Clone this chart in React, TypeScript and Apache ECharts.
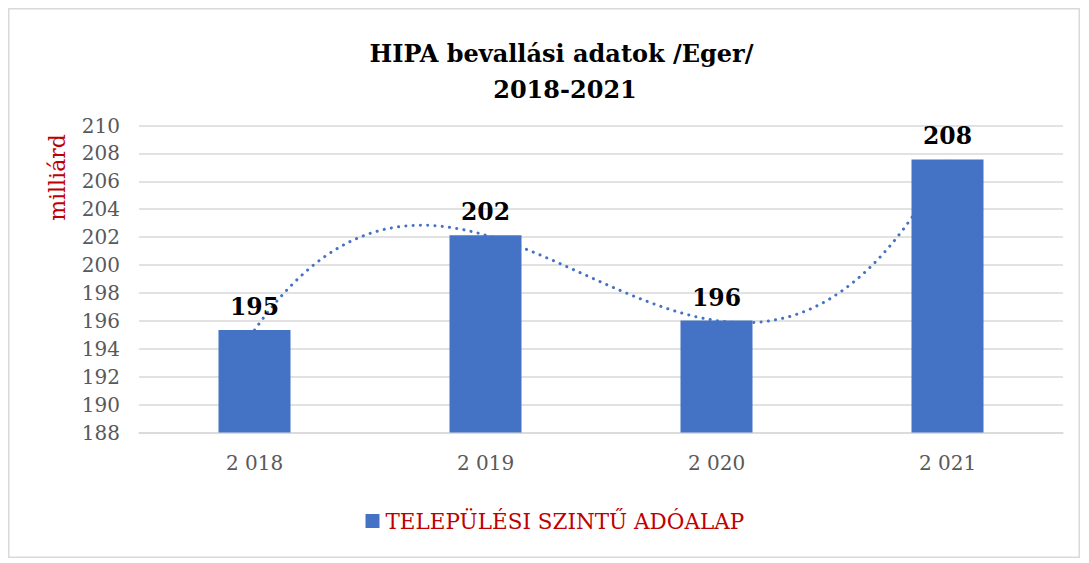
import React, { useEffect, useRef } from "react";
import * as echarts from "echarts";

const years = ["2 018", "2 019", "2 020", "2 021"];
const adoalap = [195.34, 202.14, 196.02, 207.57];
const yMin = 188;
const yMax = 210;
const yStep = 2;
const seriesName = "TELEPÜLÉSI SZINTŰ ADÓALAP";
const titleLines = ["HIPA bevallási adatok /Eger/", "2018-2021"];
const yName = "milliárd";

const BLUE = "#4472C4";
const GRID = "#D9D9D9";
const RED = "#C00000";
const GRAY = "#595959";
const SERIF = "'DejaVu Serif', serif";

// Order-3 polynomial trendline (with 4 points it passes exactly through them).
function polyTrend(vals: number[], t: number): number {
  let s = 0;
  for (let i = 0; i < vals.length; i++) {
    let l = 1;
    for (let j = 0; j < vals.length; j++) if (j !== i) l *= (t - j) / (i - j);
    s += vals[i] * l;
  }
  return s;
}

export default function App() {
  const ref = useRef<HTMLDivElement>(null);
  useEffect(() => {
    if (!ref.current) return;
    const chart = echarts.init(ref.current, undefined, { renderer: "svg" });
    chart.setOption({
      animation: false,
      backgroundColor: "#fff",
      grid: { left: 131, top: 117.5, width: 924, height: 307 },
      legend: {
        data: [seriesName],
        left: 357.5,
        top: 502,
        padding: 0,
        itemWidth: 14,
        itemHeight: 14,
        icon: "rect",
        itemGap: 8,
        textStyle: { color: RED, fontSize: 21.5, fontFamily: SERIF, padding: [0, 0, 0, 1] },
      },
      xAxis: {
        type: "category",
        data: years,
        axisLine: { lineStyle: { color: GRID, width: 1.5 } },
        axisTick: { show: false },
        axisLabel: { color: GRAY, fontSize: 20, fontFamily: SERIF, margin: 20 },
      },
      yAxis: {
        type: "value",
        min: yMin,
        max: yMax,
        interval: yStep,
        axisLine: { show: false },
        axisTick: { show: false },
        splitLine: { lineStyle: { color: GRID, width: 1.5 } },
        axisLabel: { color: GRAY, fontSize: 20, fontFamily: SERIF, margin: 19 },
      },
      series: [
        {
          type: "custom",
          name: "trend",
          z: 1,
          silent: true,
          data: [[0, adoalap[0]]],
          encode: { x: 0, y: 1 },
          renderItem: (_params: any, api: any) => {
            const xa = api.coord([0, yMin])[0];
            const xb = api.coord([1, yMin])[0];
            const pts: number[][] = [];
            const n = adoalap.length - 1;
            const steps = 80;
            for (let k = 0; k <= n * steps; k++) {
              const t = k / steps;
              const y = api.coord([0, polyTrend(adoalap, t)])[1];
              pts.push([xa + (xb - xa) * t, y]);
            }
            return {
              type: "polyline",
              shape: { points: pts },
              style: {
                stroke: BLUE,
                fill: "none",
                lineWidth: 3,
                lineDash: [0.1, 7.2],
                lineCap: "round",
              },
            };
          },
        },
        {
          type: "bar",
          name: seriesName,
          z: 2,
          data: adoalap,
          barWidth: 72,
          itemStyle: { color: BLUE },
          label: {
            show: true,
            position: "top",
            distance: 11,
            formatter: (p: any) => String(Math.round(p.value)),
            color: "#000",
            fontSize: 23.5,
            fontWeight: "bold",
            fontFamily: SERIF,
          },
        },
      ],
      graphic: [
        {
          type: "rect",
          silent: true,
          shape: { x: 0.75, y: 0.75, width: 1070.5, height: 548.5 },
          style: { fill: "none", stroke: GRID, lineWidth: 1.5 },
        },
        {
          type: "text",
          x: 553.5,
          y: 45,
          style: {
            text: titleLines[0],
            align: "center",
            verticalAlign: "middle",
            fill: "#000",
            fontSize: 24,
            fontWeight: "bold",
            fontFamily: SERIF,
          },
        },
        {
          type: "text",
          x: 557,
          y: 81,
          style: {
            text: titleLines[1],
            align: "center",
            verticalAlign: "middle",
            fill: "#000",
            fontSize: 24,
            fontWeight: "bold",
            fontFamily: SERIF,
          },
        },
        {
          type: "text",
          x: 49,
          y: 169.5,
          rotation: Math.PI / 2,
          style: {
            text: yName,
            align: "center",
            verticalAlign: "middle",
            fill: RED,
            fontSize: 22,
            fontFamily: SERIF,
          },
        },
      ],
    });
    return () => chart.dispose();
  }, []);
  return (
    <div
      ref={ref}
      style={{ position: "absolute", left: 8, top: 8, width: 1072, height: 550 }}
    />
  );
}
